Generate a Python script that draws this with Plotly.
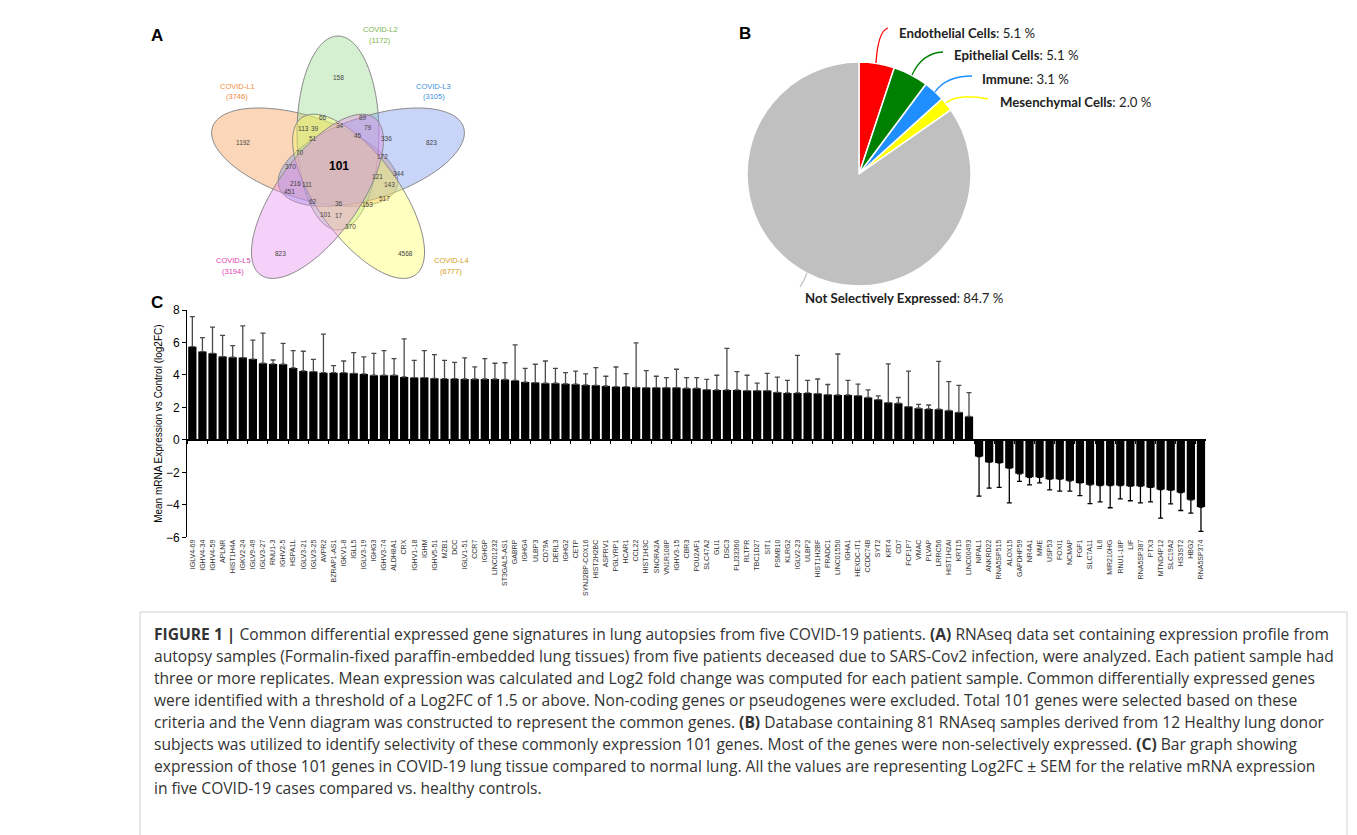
import numpy as np
import plotly.graph_objects as go

W, H = 1357, 835

# ---------------- data ----------------
genes = ["IGLV4-69","IGHV4-34","IGHV4-59","APLNR","HIST1H4A","IGKV2-24","IGLV9-49","IGLV3-27","RNU1-3","IGHV2-5",
         "HSPA1L","IGLV3-21","IGLV3-25","AVPR2","BZRAP1-AS1","IGKV1-8","IGLL5","IGLV3-19","IGHG3","IGHV3-74",
         "ALDH8A1","CRX","IGHV1-18","IGHM","IGHV5-51","MZB1","DCC","IGLV1-51","CCR7","IGHGP",
         "LINC01232","ST3GAL5-AS1","GABRP","IGHG4","ULBP3","CD79A","DERL3","IGHG2","CETP","SYNJ2BP-COX16",
         "HIST2H2BC","ASPRV1","PGLYRP1","HCAR1","CCL22","HIST1H3C","SNORA2A","VN1R108P","IGHV3-15","CBR3",
         "POU2AF1","SLC47A2","GLI1","DSC3","FLJ33360","RLTPR","TBC1D27","SIT1","PSMB10","KLRG2",
         "IGLV2-23","ULBP2","HIST1H2BF","PRADC1","LINC01550","IGHA1","HEXDC-IT1","CCDC74B","SYT2","KRT4",
         "CD7","FCF1P7","VMAC","PLVAP","LRRC56","HIST1H2AI","KRT15","LINC00493","NIPAL1","ANKRD22",
         "RNA5SP515","ALOX15","GAPDHP59","NR4A1","MME","USP53","FOXI1","NCMAP","FGF1","SLC7A11",
         "IL6","MIR210HG","RNU1-18P","LIF","RNA5SP387","PTX3","MTND4P12","SLC19A2","HS3ST2","HBG2","RNA5SP374"]

log2fc = [5.74,5.44,5.33,5.13,5.09,5.07,4.98,4.72,4.68,4.66,
          4.43,4.25,4.21,4.14,4.14,4.14,4.10,4.06,3.98,3.98,
          3.98,3.88,3.84,3.84,3.79,3.77,3.77,3.75,3.75,3.75,
          3.75,3.72,3.66,3.56,3.53,3.49,3.49,3.45,3.43,3.38,
          3.36,3.32,3.28,3.28,3.24,3.22,3.22,3.22,3.22,3.18,
          3.18,3.10,3.08,3.08,3.08,3.04,3.04,3.04,2.93,2.89,
          2.89,2.89,2.85,2.79,2.77,2.77,2.73,2.61,2.48,2.30,
          2.26,2.05,1.95,1.91,1.89,1.81,1.70,1.44,-1.03,-1.37,
          -1.42,-1.74,-2.09,-2.30,-2.30,-2.42,-2.42,-2.52,-2.65,-2.77,
          -2.81,-2.81,-2.81,-2.85,-2.85,-2.93,-3.06,-3.10,-3.24,-3.69,-4.14]

sem = [1.85,0.86,1.62,1.31,0.72,1.95,1.17,1.86,0.24,1.29,
       1.07,1.21,0.75,2.38,0.43,0.72,1.27,1.05,1.35,1.52,
       1.02,2.34,1.06,1.66,1.46,1.13,1.00,1.30,0.75,1.25,
       0.97,1.03,2.19,0.84,1.13,1.37,0.92,0.69,0.80,0.68,
       1.09,0.60,1.21,0.80,2.73,1.05,0.70,0.62,1.13,0.66,
       0.66,0.63,0.90,2.56,1.13,0.94,0.45,1.06,0.93,0.78,
       2.32,0.78,0.90,0.62,2.52,0.90,0.70,0.47,0.23,2.38,
       0.35,2.18,0.24,0.24,2.95,1.78,1.66,1.47,2.44,1.60,
       1.51,2.14,0.47,0.47,0.35,0.66,0.74,0.64,0.78,1.15,
       1.01,1.37,0.82,0.90,1.03,0.89,1.76,0.84,1.11,0.82,1.50]

pie_labels = ["Endothelial Cells", "Epithelial Cells", "Immune", "Mesenchymal Cells", "Not Selectively Expressed"]
pie_values = [5.1, 5.1, 3.1, 2.0, 84.7]
pie_colors = ["#FF0000", "#008000", "#1F8FFF", "#FFFF00", "#C0C0C0"]

venn_sets = ["COVID-L1", "COVID-L2", "COVID-L3", "COVID-L4", "COVID-L5"]
venn_totals = [3746, 1172, 3105, 6777, 3194]
venn_counts = [158, 66, 89, 113, 39, 34, 79, 1192, 51, 45, 336, 823, 70, 172, 101, 370, 121, 344,
               216, 111, 143, 451, 62, 36, 153, 517, 101, 17, 370, 823, 4568]

caption_lines = [
    "<b>FIGURE 1 |</b> Common differential expressed gene signatures in lung autopsies from five COVID-19 patients. <b>(A)</b> RNAseq data set containing expression profile from",
    "autopsy samples (Formalin-fixed paraffin-embedded lung tissues) from five patients deceased due to SARS-Cov2 infection, were analyzed. Each patient sample had",
    "three or more replicates. Mean expression was calculated and Log2 fold change was computed for each patient sample. Common differentially expressed genes",
    "were identified with a threshold of a Log2FC of 1.5 or above. Non-coding genes or pseudogenes were excluded. Total 101 genes were selected based on these",
    "criteria and the Venn diagram was constructed to represent the common genes. <b>(B)</b> Database containing 81 RNAseq samples derived from 12 Healthy lung donor",
    "subjects was utilized to identify selectivity of these commonly expression 101 genes. Most of the genes were non-selectively expressed. <b>(C)</b> Bar graph showing",
    "expression of those 101 genes in COVID-19 lung tissue compared to normal lung. All the values are representing Log2FC \u00b1 SEM for the relative mRNA expression",
    "in five COVID-19 cases compared vs. healthy controls.",
]

# ---------------- helpers (screen px -> paper) ----------------
def px(x):
    return x / W

def py(y):
    return 1 - y / H

fig = go.Figure()
shapes = []
annots = []

# ---------------- Panel C: bar chart ----------------
pos = [i for i, v in enumerate(log2fc) if v >= 0]
neg = [i for i, v in enumerate(log2fc) if v < 0]

fig.add_trace(go.Bar(
    x=[genes[i] for i in pos], y=[log2fc[i] for i in pos],
    marker=dict(color="black", line=dict(width=0)),
    error_y=dict(type="data", symmetric=False, array=[sem[i] for i in pos],
                 arrayminus=[0] * len(pos), color="#4a4a4a", thickness=1.3, width=2.5),
    showlegend=False, hoverinfo="x+y"))
fig.add_trace(go.Bar(
    x=[genes[i] for i in neg], y=[log2fc[i] for i in neg],
    marker=dict(color="black", line=dict(width=0)),
    error_y=dict(type="data", symmetric=False, array=[0] * len(neg),
                 arrayminus=[sem[i] for i in neg], color="black", thickness=1.3, width=2.5),
    showlegend=False, hoverinfo="x+y"))
fig.add_trace(go.Scatter(x=genes, y=[0] * len(genes), xaxis="x3", yaxis="y",
                         mode="markers", marker=dict(opacity=0), showlegend=False, hoverinfo="skip"))

x_dom = [187.3 / W, 1206.0 / W]
y_dom = [py(537.3), py(310.0)]
y_zero = py(440.0)

# ---------------- Panel B: pie ----------------
pcx, pcy, pr = 859, 174, 112
fig.add_trace(go.Pie(
    labels=pie_labels, values=pie_values, sort=False, direction="clockwise", rotation=0,
    marker=dict(colors=pie_colors, line=dict(color="white", width=1.5)),
    textinfo="none", showlegend=False, hoverinfo="label+percent",
    domain=dict(x=[px(pcx - pr), px(pcx + pr)], y=[py(pcy + pr), py(pcy - pr)])))

label_pos = [(897, 33), (952, 55), (980, 79), (998, 102), (803, 298)]
for lab, val, (lx, ly) in zip(pie_labels, pie_values, label_pos):
    annots.append(dict(x=px(lx), y=py(ly), xref="paper", yref="paper", xanchor="left", yanchor="middle",
                       text="<b>%s</b>: %.1f %%" % (lab, val), showarrow=False,
                       font=dict(family="Lato", size=13.2, color="#222")))

leaders = [
    ("M %f,%f Q %f,%f %f,%f", (876, 63, 878, 31, 888, 28), "#FF0000"),
    ("M %f,%f Q %f,%f %f,%f", (912, 75, 922, 53, 943, 52), "#008000"),
    ("M %f,%f Q %f,%f %f,%f", (935, 92, 946, 76, 972, 76), "#1F8FFF"),
    ("M %f,%f Q %f,%f %f,%f", (946, 103, 958, 93, 988, 99), "#FFFF00"),
    ("M %f,%f L %f,%f L %f,%f", (800, 287, 804, 280, 807, 273), "#C0C0C0"),
]
for fmt, pts, col in leaders:
    conv = []
    for k in range(0, len(pts), 2):
        conv += [px(pts[k]), py(pts[k + 1])]
    shapes.append(dict(type="path", xref="paper", yref="paper", path=fmt % tuple(conv),
                       line=dict(color=col, width=1.3)))

# ---------------- Panel A: Venn ----------------
C = (338.0, 168.0)
d_off, ea, eb = 35.0, 97.0, 41.0
angles = [162, 90, 18, -54, -126]
fills = ["rgba(245,152,78,0.40)", "rgba(148,218,138,0.40)", "rgba(117,148,238,0.40)",
         "rgba(255,255,98,0.40)", "rgba(230,138,237,0.40)"]
t = np.linspace(0, 2 * np.pi, 120)
for ang, fc in zip(angles, fills):
    th = np.radians(ang)
    cx = C[0] + d_off * np.cos(th)
    cy = C[1] - d_off * np.sin(th)
    X = cx + ea * np.cos(t) * np.cos(th) - eb * np.sin(t) * np.sin(th)
    Y = cy - (ea * np.cos(t) * np.sin(th) + eb * np.sin(t) * np.cos(th))
    path = "M " + " L ".join("%f,%f" % (px(a), py(b)) for a, b in zip(X, Y)) + " Z"
    shapes.append(dict(type="path", xref="paper", yref="paper", path=path,
                       fillcolor=fc, line=dict(color="#8a8a8a", width=1)))

count_pos = [(338, 77), (323, 118), (363, 117), (303, 129), (315, 129), (340, 126), (368, 127),
             (243, 142), (313, 139), (358, 135), (386, 139), (431, 142), (300, 153), (382, 156),
             (339, 166), (290, 167), (377, 176), (398, 174), (295, 183), (307, 184), (389, 184),
             (289, 192), (313, 201), (339, 203), (367, 204), (384, 199), (325, 215), (339, 216),
             (350, 226), (280, 253), (405, 253)]
for i, (cnt, (cx, cy)) in enumerate(zip(venn_counts, count_pos)):
    if i == 14:
        annots.append(dict(x=px(cx), y=py(cy), xref="paper", yref="paper", text="<b>%d</b>" % cnt,
                           xanchor="center", yanchor="middle",
                           showarrow=False, font=dict(family="Liberation Sans", size=12, color="black")))
    else:
        annots.append(dict(x=px(cx), y=py(cy), xref="paper", yref="paper", text=str(cnt),
                           xanchor="center", yanchor="middle",
                           showarrow=False, font=dict(family="Liberation Sans", size=6.5, color="#444")))

set_pos = [(237, 86), (380, 29), (434, 86), (451, 260), (233, 260)]
set_cols = ["#F08A3C", "#7AB648", "#3A8FDC", "#D4A020", "#E040B0"]
for nm, tot, (sx, sy), col in zip(venn_sets, venn_totals, set_pos, set_cols):
    annots.append(dict(x=px(sx), y=py(sy), xref="paper", yref="paper", text=nm, showarrow=False,
                       xanchor="center", yanchor="middle",
                       font=dict(family="Liberation Sans", size=7.5, color=col)))
    annots.append(dict(x=px(sx), y=py(sy + 11), xref="paper", yref="paper", text="(%d)" % tot,
                       xanchor="center", yanchor="middle",
                       showarrow=False, font=dict(family="Liberation Sans", size=7.5, color=col)))

# ---------------- panel letters ----------------
for letter, (lx, ly) in zip(["A", "B", "C"], [(157, 35), (745, 33), (157, 302)]):
    annots.append(dict(x=px(lx), y=py(ly), xref="paper", yref="paper", text="<b>%s</b>" % letter,
                       xanchor="center", yanchor="middle",
                       showarrow=False, font=dict(family="Liberation Sans", size=17, color="black")))

# ---------------- caption ----------------
shapes.append(dict(type="rect", xref="paper", yref="paper", x0=px(140), x1=px(1347), y0=py(845), y1=py(612),
                   line=dict(color="#cfcfcf", width=1), fillcolor="rgba(0,0,0,0)"))
for k, line in enumerate(caption_lines):
    annots.append(dict(x=px(152), y=py(634 + 22 * k), xref="paper", yref="paper", xanchor="left",
                       yanchor="middle", text=line, showarrow=False,
                       font=dict(family="Open Sans", size=15.6, color="#333")))

fig.update_layout(
    width=W, height=H, margin=dict(l=0, r=0, t=0, b=0, autoexpand=False),
    paper_bgcolor="white", plot_bgcolor="rgba(0,0,0,0)",
    barmode="overlay", bargap=0.18,
    xaxis=dict(type="category", domain=x_dom, range=[-0.5, 100.5], anchor="y", automargin=False,
               categoryorder="array", categoryarray=genes,
               showline=False, ticks="", showgrid=False, zeroline=False,
               tickangle=-90, tickfont=dict(family="Liberation Sans", size=7, color="#333")),
    xaxis3=dict(type="category", domain=x_dom, range=[-0.5, 100.5], overlaying="x", anchor="free",
                position=y_zero, categoryorder="array", categoryarray=genes, automargin=False,
                showline=True, linecolor="black", linewidth=1.5, ticks="outside", ticklen=3,
                tickcolor="black", tickwidth=1, tickson="boundaries", showticklabels=False,
                showgrid=False, zeroline=False),
    yaxis=dict(domain=y_dom, range=[-6, 8], dtick=2, anchor="x", showline=True, linecolor="black",
               linewidth=1.2, ticks="outside", ticklen=4, tickcolor="black", showgrid=False,
               zeroline=False, automargin=False,
               tickfont=dict(family="Liberation Sans", size=12, color="black"),
               title=dict(text="Mean mRNA Expression vs Control (log2FC)", standoff=1,
                          font=dict(family="Liberation Sans", size=10, color="black"))),
    shapes=shapes, annotations=annots,
)

fig.write_html("out.html", config={"displayModeBar": False},
               post_script="document.body.style.margin='0px';document.body.style.overflow='hidden';")
